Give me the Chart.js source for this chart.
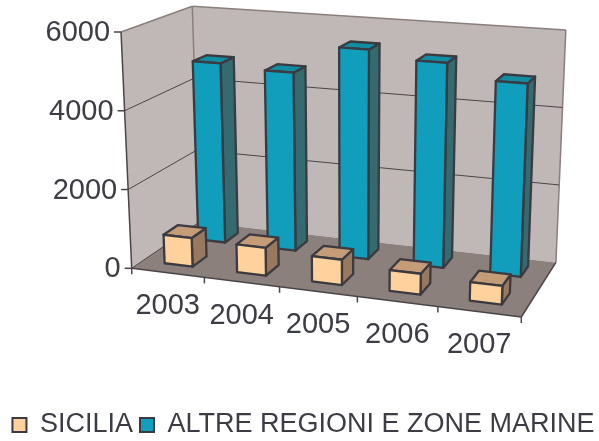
<!DOCTYPE html>
<html><head><meta charset="utf-8">
<style>html,body{margin:0;padding:0;background:#fff}#w{width:599px;height:441px}</style>
<script src="https://cdn.jsdelivr.net/npm/chart.js@4"></script></head>
<body><div id="w"><canvas id="c" width="599" height="441"></canvas></div>
<script>
const categories = ['2003','2004','2005','2006','2007'];
const sicilia = [730, 700, 625, 510, 450];
const altre = [4780, 4680, 5430, 5230, 4860];
const seriesNames = ['SICILIA','ALTRE REGIONI E ZONE MARINE'];
const yTicks = {min:0,max:6000,step:2000};

// Perspective frame of the 3D box (origin + vanishing points), layout only
const O=[131.7,268.3], VU=[-4200,-273], VV=[350,5100], VW=[875,-240], TOP=32;
const alpha=(a,v)=>(O[0]-a[0])/(a[0]-v[0]);
const aU=alpha([521.3,317.3],VU), aW=alpha([199,222],VW);
const aV=(O[1]-TOP)/(TOP-VV[1]);
// keeps equal value steps evenly spaced along the front axis
function lin(v){const y=O[1]-(O[1]-TOP)*v;return (O[1]-y)/(aV*(y-VV[1]));}
function P(u,v0,w){
  const v=lin(v0),d=1+u*aU+v*aV+w*aW;
  return [(O[0]+u*aU*VU[0]+v*aV*VV[0]+w*aW*VW[0])/d,(O[1]+u*aU*VU[1]+v*aV*VV[1]+w*aW*VW[1])/d];
}
function poly(ctx,pts,fill,stroke,lw){
  ctx.beginPath();pts.forEach((p,i)=>i?ctx.lineTo(p[0],p[1]):ctx.moveTo(p[0],p[1]));ctx.closePath();
  if(fill){ctx.fillStyle=fill;ctx.fill();}
  if(stroke){ctx.strokeStyle=stroke;ctx.lineWidth=lw;ctx.lineJoin='round';ctx.stroke();}
}
function line(ctx,a,b,c,lw){ctx.beginPath();ctx.moveTo(a[0],a[1]);ctx.lineTo(b[0],b[1]);ctx.strokeStyle=c;ctx.lineWidth=lw;ctx.stroke();}
const depth=[[0.155,0.365],[0.66,0.87]];
const faces=[{front:'#ffd19c',side:'#98785f',top:'#c49c78'},{front:'#119dbc',side:'#336b70',top:'#118ca0'}];
const EDGE='#3a3a40', TXT='#3c3c44';

const box3d={id:'box3d',
 afterLayout(chart){const l=chart.legend;l.left+=4;l.right+=4;l.top+=7.5;l.bottom+=7.5;},
 beforeDatasetsDraw(chart){
  const ctx=chart.ctx,a=chart.chartArea,xs=chart.scales.x,ys=chart.scales.y;
  const vOf=val=>(ys.bottom-ys.getPixelForValue(val))/(ys.bottom-ys.top);
  ctx.save();
  poly(ctx,[P(0,0,0),P(0,1,0),P(0,1,1),P(0,0,1)],'#c0b8b6');
  poly(ctx,[P(0,0,1),P(0,1,1),P(1,1,1),P(1,0,1)],'#c0b8b6');
  poly(ctx,[P(0,0,0),P(1,0,0),P(1,0,1),P(0,0,1)],'#8c807c');
  line(ctx,P(0,1,0),P(0,1,1),'#8a7f7b',1.5);
  line(ctx,P(0,1,1),P(1,1,1),'#8a7f7b',1.5);
  line(ctx,P(1,1,1),P(1,0,1),'#8a7f7b',1.5);
  line(ctx,P(0,1,1),P(0,0,1),'#8a7f7b',1.5);
  ys.ticks.forEach(t=>{const v=vOf(t.value);
    if(t.value>0&&t.value<yTicks.max){line(ctx,P(0,v,0),P(0,v,1),'#4a4548',1);line(ctx,P(0,v,1),P(1,v,1),'#4a4548',1);}
  });
  line(ctx,P(0,0,0),P(0,1,0),'#4a4548',1.5);
  line(ctx,P(0,0,0),P(1,0,0),'#4a4548',1.5);
  line(ctx,P(1,0,0),P(1,0,1),'#4a4548',1.5);
  line(ctx,P(0,0,0),P(0,0,1),'#4a4548',1);
  ctx.fillStyle=TXT;ctx.font='29px "Liberation Sans"';
  ctx.textAlign='right';ctx.textBaseline='middle';
  ys.ticks.forEach(t=>{const p=P(0,vOf(t.value),0);
    line(ctx,[p[0]-7,p[1]],p,'#4a4548',1.5);
    ctx.fillStyle=TXT;ctx.fillText(String(t.value),p[0]-11,p[1]+1);
  });
  const n=categories.length;
  for(let i=0;i<=n;i++){const p=P(i/n,0,0);line(ctx,p,[p[0],p[1]+6],'#4a4548',1.5);}
  ctx.textAlign='center';
  categories.forEach((c,i)=>{const u=(xs.getPixelForValue(i)-a.left)/a.width,p=P(u,0,0);
    ctx.fillStyle=TXT;ctx.fillText(c,p[0],p[1]+33.5);});
  [1,0].forEach(ds=>{
    const f=faces[ds],[w0,w1]=depth[ds];
    chart.getDatasetMeta(ds).data.forEach(el=>{
      const u0=(el.x-el.width/2-a.left)/a.width,u1=(el.x+el.width/2-a.left)/a.width;
      const v=(el.base-el.y)/a.height;
      poly(ctx,[P(u1,0,w0),P(u1,v,w0),P(u1,v,w1),P(u1,0,w1)],f.side,EDGE,2.3);
      poly(ctx,[P(u0,v,w0),P(u1,v,w0),P(u1,v,w1),P(u0,v,w1)],f.top,EDGE,2.3);
      poly(ctx,[P(u0,0,w0),P(u0,v,w0),P(u1,v,w0),P(u1,0,w0)],f.front,EDGE,2.3);
    });
  });
  ctx.restore();
  return false;
}};

new Chart(document.getElementById('c'),{
  type:'bar',
  data:{labels:categories,datasets:[
    {label:seriesNames[0],data:sicilia,backgroundColor:faces[0].front,borderColor:EDGE,borderWidth:2},
    {label:seriesNames[1],data:altre,backgroundColor:faces[1].front,borderColor:EDGE,borderWidth:2}
  ]},
  options:{
    responsive:false,animation:false,
    layout:{padding:{left:0,right:0,top:5,bottom:0}},
    datasets:{bar:{grouped:false,barPercentage:0.39,categoryPercentage:1}},
    scales:{
      x:{display:false,offset:true},
      y:{display:false,min:yTicks.min,max:yTicks.max,ticks:{stepSize:yTicks.step}}
    },
    plugins:{
      legend:{display:true,position:'bottom',labels:{boxWidth:14,boxHeight:14,padding:7,color:TXT,font:{family:'"Liberation Sans"',size:27}}},
      tooltip:{enabled:false}
    }
  },
  plugins:[box3d]
});
</script></body></html>
